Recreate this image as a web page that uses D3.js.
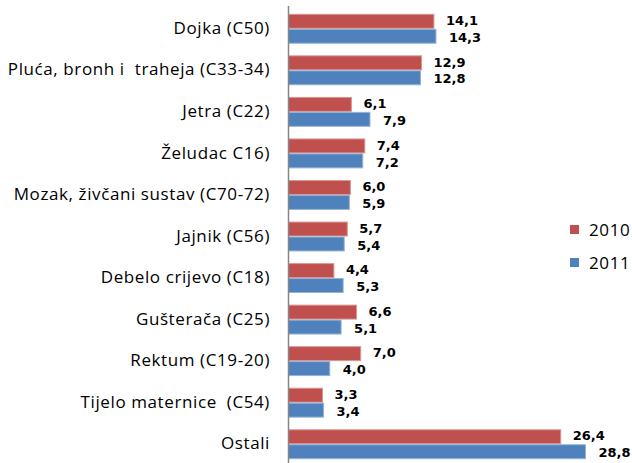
<!DOCTYPE html>
<html>
<head>
<meta charset="utf-8">
<script src="https://cdn.jsdelivr.net/npm/d3@7"></script>
<style>
  body { margin: 0; background: #fff; }
  svg { display: block; }
  text { white-space: pre; }
</style>
</head>
<body>
<svg width="632" height="463"></svg>
<script>
/* chart data */
var categories = [
  'Dojka (C50)',
  'Pluća, bronh i  traheja (C33-34)',
  'Jetra (C22)',
  'Želudac C16)',
  'Mozak, živčani sustav (C70-72)',
  'Jajnik (C56)',
  'Debelo crijevo (C18)',
  'Gušterača (C25)',
  'Rektum (C19-20)',
  'Tijelo maternice  (C54)',
  'Ostali'
];
var values2010 = [14.1, 12.9, 6.1, 7.4, 6.0, 5.7, 4.4, 6.6, 7.0, 3.3, 26.4];
var values2011 = [14.3, 12.8, 7.9, 7.2, 5.9, 5.4, 5.3, 5.1, 4.0, 3.4, 28.8];
var seriesNames = ['2010', '2011'];
var seriesColors = ['#C0504D', '#4F81BD'];
var seriesStrokes = ['#D99694', '#95B3D7'];

var svg = d3.select('svg');
var x0 = 288.5;

var x = d3.scaleLinear().domain([0, 28.8]).range([x0, 585.5]);
var y = d3.scaleBand().domain(categories).range([8, 465]).paddingInner(0.28).paddingOuter(0.14);
var ySub = d3.scaleBand().domain(seriesNames).range([0, y.bandwidth()]).padding(0);

var rows = categories.map(function(c, i) {
  return { cat: c, vals: [values2010[i], values2011[i]] };
});

var fmt = function(v) { return d3.format('.1f')(v).replace('.', ','); };

var groups = svg.selectAll('g.group')
  .data(rows)
  .enter().append('g')
  .attr('class', 'group')
  .attr('transform', function(d) { return 'translate(0,' + y(d.cat) + ')'; });

groups.selectAll('rect')
  .data(function(d) { return d.vals.map(function(v, k) { return { v: v, k: k }; }); })
  .enter().append('rect')
  .attr('x', x0)
  .attr('y', function(d) { return ySub(seriesNames[d.k]) + 0.5; })
  .attr('width', function(d) { return x(d.v) - x0; })
  .attr('height', ySub.bandwidth() - 1)
  .attr('fill', function(d) { return seriesColors[d.k]; })
  .attr('stroke', function(d) { return seriesStrokes[d.k]; })
  .attr('stroke-width', 1);

groups.selectAll('text.val')
  .data(function(d) { return d.vals.map(function(v, k) { return { v: v, k: k }; }); })
  .enter().append('text')
  .attr('class', 'val')
  .attr('x', function(d) { return x(d.v) + 12 + d.k; })
  .attr('y', function(d) { return ySub(seriesNames[d.k]) + ySub.bandwidth() / 2 + (d.k ? 1 : -1); })
  .attr('dy', '0.36em')
  .attr('font-family', 'DejaVu Sans, Verdana, sans-serif')
  .attr('font-weight', 'bold')
  .attr('font-size', '13px')
  .attr('fill', '#000')
  .text(function(d) { return fmt(d.v); });

// category labels
svg.append('g').selectAll('text')
  .data(categories)
  .enter().append('text')
  .attr('x', 270)
  .attr('y', function(d) { return y(d) + y.bandwidth() / 2 - 1; })
  .attr('dy', '0.36em')
  .attr('text-anchor', 'end')
  .attr('font-family', 'Open Sans, sans-serif')
  .attr('font-size', '17px')
  .attr('letter-spacing', '0.6px')
  .attr('fill', '#000')
  .text(function(d) { return d; });

// vertical axis line
svg.append('line')
  .attr('x1', x0).attr('x2', x0)
  .attr('y1', 6).attr('y2', 463)
  .attr('stroke', '#868686')
  .attr('stroke-width', 1.5);

// legend
var legend = svg.append('g').selectAll('g')
  .data(seriesNames)
  .enter().append('g')
  .attr('transform', function(d, i) { return 'translate(570,' + (225 + i * 33) + ')'; });

legend.append('rect')
  .attr('width', 9).attr('height', 9)
  .attr('fill', function(d, i) { return seriesColors[i]; });

legend.append('text')
  .attr('x', 19).attr('y', 5)
  .attr('dy', '0.36em')
  .attr('font-family', 'Open Sans, sans-serif')
  .attr('font-size', '17px')
  .attr('letter-spacing', '0.6px')
  .attr('fill', '#000')
  .text(function(d) { return d; });
</script>
</body>
</html>
